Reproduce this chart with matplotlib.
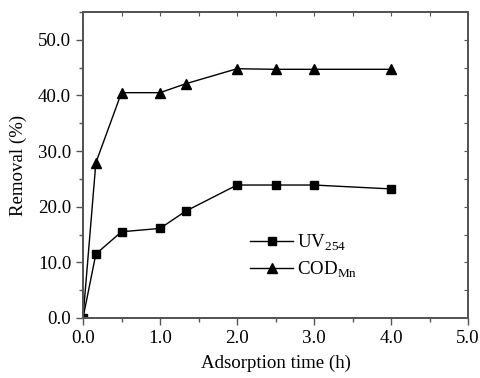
import numpy as np
import matplotlib.pyplot as plt
from matplotlib.ticker import MultipleLocator, FormatStrFormatter

plt.rcParams['font.family'] = ['Liberation Serif', 'DejaVu Serif']
plt.rcParams['mathtext.fontset'] = 'custom'
plt.rcParams['mathtext.rm'] = 'Liberation Serif'

# adsorption time (h)
time_h = [0, 0.167, 0.5, 1.0, 1.333, 2.0, 2.5, 3.0, 4.0]
# removal (%)
uv254 = [0, 11.5, 15.5, 16.1, 19.2, 23.9, 23.9, 23.9, 23.2]
cod_mn = [0, 27.9, 40.5, 40.5, 42.1, 44.8, 44.7, 44.7, 44.7]

fig = plt.figure(figsize=(4.8, 3.78), dpi=100)
ax = fig.add_axes([83/480, 1-318/378, (468-83)/480, (318-12)/378])

ax.plot(time_h, uv254, '-s', color='black', lw=1.0, ms=5.5, label='UV$_{254}$')
ax.plot(time_h, cod_mn, '-^', color='black', lw=1.0, ms=7.2, label='COD$_{\\rm Mn}$')

ax.set_xlim(0, 5)
ax.set_ylim(0, 55)
ax.xaxis.set_major_locator(MultipleLocator(1))
ax.xaxis.set_minor_locator(MultipleLocator(0.5))
ax.yaxis.set_major_locator(MultipleLocator(10))
ax.yaxis.set_minor_locator(MultipleLocator(5))
ax.xaxis.set_major_formatter(FormatStrFormatter('%.1f'))
ax.yaxis.set_major_formatter(FormatStrFormatter('%.1f'))

for s in ax.spines.values():
    s.set_color('#555555')
    s.set_linewidth(1.2)

ax.tick_params(which='both', direction='out', color='#555555', labelsize=13.6, top=False, right=False)
ax.tick_params(which='major', length=5, width=1)
ax.tick_params(which='minor', length=3, width=1)

# inward ticks on top and right
ax2 = ax.twinx()
ax2.set_ylim(ax.get_ylim())
ax2.yaxis.set_major_locator(MultipleLocator(5))
ax2.tick_params(direction='in', length=3, color='#555555', labelright=False)
ax3 = ax.twiny()
ax3.set_xlim(ax.get_xlim())
ax3.xaxis.set_major_locator(MultipleLocator(0.5))
ax3.tick_params(direction='in', length=3, color='#555555', labeltop=False)
for a in (ax2, ax3):
    for s in a.spines.values():
        s.set_color('#555555')
        s.set_linewidth(1.2)

ax.set_xlabel('Adsorption time (h)', fontsize=13.6, labelpad=6)
ax.set_ylabel('Removal (%)', fontsize=13.6, labelpad=8)

ax.legend(loc='lower left', bbox_to_anchor=(0.414, 0.10), frameon=False, fontsize=13.6,
          handlelength=2.3, handletextpad=0.2, labelspacing=0.35, borderaxespad=0)

fig.savefig('out.png', dpi=100)
